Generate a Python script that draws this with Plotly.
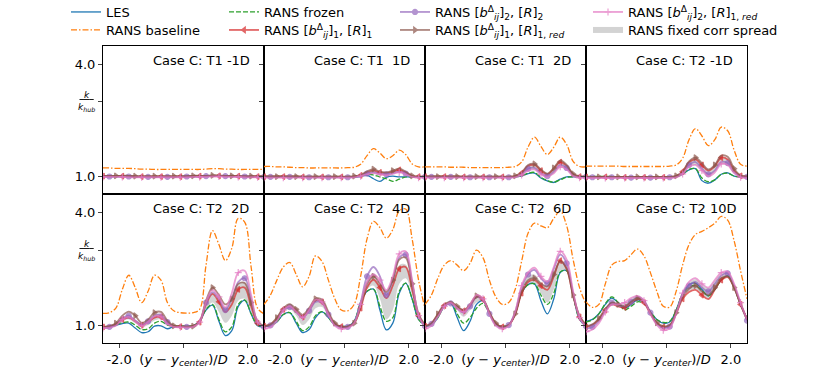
import plotly.graph_objects as go

# wall-normal coordinate (y - y_center)/D, shared by all panels
y_over_d = [-2.5, -2.3, -2.1, -1.9, -1.7, -1.5, -1.3, -1.1, -0.9, -0.7, -0.5, -0.3, -0.1,
            0.1, 0.3, 0.5, 0.7, 0.9, 1.1, 1.3, 1.5, 1.7, 1.9, 2.1, 2.3, 2.5]

panel_titles = ["Case C: T1 -1D", "Case C: T1\u00a0\u00a01D", "Case C: T1\u00a0\u00a02D", "Case C: T2 -1D",
                "Case C: T2\u00a0\u00a02D", "Case C: T2\u00a0\u00a04D", "Case C: T2\u00a0\u00a06D", "Case C: T2 10D"]

xtick_vals = [-2.0, 0.0, 2.0]
xtick_text = ["-2.0", "(<i>y</i> \u2212 <i>y</i><sub><i>center</i></sub>)/<i>D</i>", "2.0"]
ytick_vals = [1.0, 3.0, 4.0]
ytick_text = ["1.0", "", "4.0"]

# k / k_hub, one row per panel (T1 -1D, T1 1D, T1 2D, T2 -1D, T2 2D, T2 4D, T2 6D, T2 10D)
les = [
    [0.99,0.99,0.99,0.99,0.99,0.98,0.98,0.98,0.98,0.98,0.98,0.98,0.99,0.99,0.99,0.99,1.00,1.01,1.01,1.00,1.00,0.99,0.99,0.98,0.98,0.98],
    [0.98,0.98,0.98,0.98,0.98,0.98,0.98,0.97,0.97,0.97,0.97,0.97,0.97,0.97,0.97,0.99,1.02,0.93,0.86,0.97,1.00,0.98,0.98,0.98,0.98,0.98],
    [0.98,0.98,0.98,0.98,0.98,0.98,0.98,0.97,0.97,0.97,0.97,0.97,0.97,0.97,0.98,1.00,1.07,1.08,0.95,0.87,0.83,0.92,0.98,0.98,0.98,0.98],
    [0.98,0.98,0.98,0.98,0.98,0.97,0.97,0.97,0.97,0.97,0.97,0.97,0.97,0.97,0.98,1.05,1.17,1.20,0.88,0.81,0.90,1.05,1.09,1.00,0.98,0.98],
    [0.92,0.94,0.99,1.04,1.05,0.92,0.80,0.82,0.97,0.98,0.90,0.96,0.97,0.97,0.98,1.10,1.40,1.53,1.10,0.72,0.85,1.50,1.66,1.30,0.98,0.95],
    [0.97,0.98,1.08,1.28,1.33,1.05,0.80,0.88,1.20,1.35,1.20,1.00,0.97,0.97,1.10,1.60,1.90,1.96,1.40,0.87,1.05,1.85,2.12,1.70,1.15,1.00],
    [0.97,1.00,1.20,1.50,1.58,1.20,0.85,1.10,1.55,1.65,1.30,1.02,0.96,1.00,1.30,1.85,2.08,2.10,1.65,1.30,1.70,2.40,2.45,1.80,1.15,0.97],
    [1.10,1.15,1.30,1.55,1.72,1.60,1.45,1.55,1.67,1.60,1.35,1.15,1.05,1.08,1.40,1.85,2.08,2.12,1.95,1.78,1.95,2.20,2.31,2.00,1.55,1.18],
]
rans_baseline = [
    [1.22,1.22,1.21,1.21,1.21,1.20,1.19,1.19,1.18,1.18,1.18,1.18,1.18,1.18,1.18,1.18,1.19,1.20,1.20,1.19,1.19,1.18,1.18,1.18,1.18,1.18],
    [1.26,1.26,1.25,1.25,1.24,1.23,1.23,1.22,1.22,1.22,1.22,1.22,1.22,1.23,1.24,1.32,1.55,1.74,1.62,1.47,1.55,1.70,1.58,1.33,1.25,1.25],
    [1.25,1.25,1.25,1.25,1.24,1.24,1.24,1.23,1.23,1.23,1.23,1.23,1.23,1.24,1.26,1.38,1.78,2.05,1.80,1.58,1.78,2.05,1.85,1.40,1.26,1.25],
    [1.27,1.27,1.27,1.27,1.27,1.27,1.26,1.26,1.26,1.26,1.26,1.26,1.26,1.27,1.30,1.48,1.98,2.28,2.08,1.82,1.98,2.32,2.22,1.70,1.32,1.27],
    [1.31,1.33,1.45,1.95,2.33,2.00,1.60,1.90,2.33,2.20,1.60,1.38,1.33,1.32,1.33,1.42,2.60,3.52,3.15,2.72,3.05,3.85,3.75,2.55,1.45,1.30],
    [1.55,1.80,2.20,2.55,2.67,2.35,2.02,2.30,2.85,2.70,2.20,1.70,1.40,1.38,1.55,2.30,3.30,3.77,3.60,3.32,3.55,4.05,4.10,3.30,2.20,1.45],
    [1.55,1.80,2.25,2.60,2.72,2.60,2.45,2.65,3.00,2.80,2.20,1.75,1.55,1.60,1.95,2.70,3.45,3.72,3.65,3.60,3.85,4.04,3.65,2.75,2.00,1.55],
    [1.62,1.47,1.55,2.10,2.60,2.70,2.72,2.88,3.03,2.85,2.40,1.90,1.50,1.48,1.90,2.60,3.15,3.42,3.50,3.60,3.72,3.90,3.80,3.25,2.45,1.70],
]
rans_frozen = [
    [1.00,1.00,1.00,1.00,1.00,0.99,0.99,0.99,0.99,0.99,0.99,0.99,0.99,1.00,1.00,1.00,1.01,1.02,1.01,1.00,1.00,1.00,0.99,0.99,0.99,0.99],
    [0.99,0.99,0.99,0.99,0.99,0.99,0.98,0.98,0.98,0.98,0.98,0.98,0.98,0.98,0.99,1.00,1.05,1.03,0.98,0.93,0.86,0.92,0.98,0.98,0.98,0.98],
    [0.99,0.99,0.99,0.99,0.99,0.99,0.98,0.98,0.98,0.98,0.98,0.98,0.98,0.98,0.99,1.01,1.08,1.10,0.97,0.88,0.84,0.90,0.97,0.98,0.98,0.98],
    [0.99,0.99,0.99,0.99,0.99,0.98,0.98,0.98,0.98,0.98,0.98,0.98,0.98,0.98,0.99,1.06,1.18,1.20,0.95,0.85,0.90,1.05,1.08,1.00,0.98,0.98],
    [0.95,0.97,1.01,1.06,1.08,1.00,0.88,0.90,1.05,1.10,1.00,0.97,0.97,0.97,0.98,1.10,1.42,1.55,1.15,0.82,0.95,1.55,1.67,1.30,1.00,0.96],
    [0.98,0.99,1.09,1.28,1.33,1.10,0.85,0.95,1.25,1.36,1.20,1.00,0.97,0.97,1.10,1.60,1.90,1.96,1.50,1.10,1.20,1.90,2.12,1.70,1.15,1.00],
    [0.98,1.01,1.20,1.50,1.58,1.30,1.05,1.20,1.45,1.58,1.30,1.03,0.97,1.00,1.30,1.85,2.08,2.10,1.80,1.55,1.85,2.42,2.45,1.80,1.15,0.98],
    [1.08,1.14,1.30,1.57,1.75,1.60,1.40,1.50,1.62,1.58,1.35,1.15,1.07,1.10,1.40,1.82,2.02,2.05,1.92,1.78,1.95,2.20,2.31,2.00,1.55,1.18],
]
rans_b1_r1 = [
    [1.00,1.00,1.00,1.00,1.00,0.99,0.99,0.99,0.99,0.99,0.99,0.99,0.99,0.99,1.00,1.00,1.00,1.01,1.01,1.00,1.00,1.00,0.99,0.99,0.99,0.99],
    [0.99,0.99,0.99,0.99,0.99,0.99,0.98,0.98,0.98,0.98,0.98,0.98,0.98,0.98,0.99,1.02,1.10,1.15,1.10,1.08,1.12,1.17,1.10,1.00,0.99,0.99],
    [0.99,0.99,0.99,0.99,0.99,0.99,0.98,0.98,0.98,0.98,0.98,0.98,0.98,0.98,1.00,1.08,1.27,1.30,1.15,1.05,1.20,1.38,1.27,1.05,0.99,0.99],
    [0.98,0.98,0.98,0.98,0.98,0.98,0.97,0.97,0.97,0.97,0.97,0.97,0.97,0.98,1.00,1.12,1.37,1.45,1.30,1.15,1.27,1.50,1.45,1.15,1.01,0.99],
    [0.95,0.97,1.02,1.15,1.20,1.10,1.00,1.08,1.20,1.22,1.05,0.97,0.96,0.96,0.97,1.08,1.55,1.83,1.62,1.35,1.55,1.95,2.00,1.50,1.05,0.97],
    [0.97,1.01,1.17,1.42,1.50,1.36,1.22,1.40,1.66,1.62,1.30,1.03,0.96,0.96,1.05,1.45,2.00,2.21,2.00,1.72,2.05,2.50,2.55,1.95,1.25,1.00],
    [0.97,1.05,1.28,1.52,1.60,1.48,1.38,1.52,1.75,1.68,1.33,1.04,0.95,1.00,1.28,1.85,2.15,2.20,2.05,1.94,2.30,2.72,2.50,1.78,1.22,1.00],
    [0.95,1.00,1.15,1.40,1.55,1.50,1.47,1.58,1.70,1.60,1.30,1.05,0.95,0.98,1.30,1.70,1.88,1.94,1.80,1.69,1.95,2.20,2.28,2.00,1.55,1.15],
]
rans_b2_r2 = [
    [0.99,0.99,0.99,0.99,0.99,0.99,0.98,0.98,0.98,0.98,0.98,0.98,0.98,0.99,0.99,0.99,1.00,1.00,1.00,1.00,0.99,0.99,0.99,0.99,0.98,0.98],
    [0.98,0.98,0.98,0.98,0.98,0.98,0.98,0.97,0.97,0.97,0.97,0.97,0.97,0.97,0.98,1.01,1.07,1.10,1.06,1.05,1.08,1.12,1.07,0.99,0.98,0.98],
    [0.98,0.98,0.98,0.98,0.98,0.98,0.97,0.97,0.97,0.97,0.97,0.97,0.97,0.97,0.99,1.05,1.20,1.22,1.08,1.00,1.12,1.30,1.22,1.03,0.98,0.98],
    [0.97,0.97,0.97,0.97,0.97,0.97,0.96,0.96,0.96,0.96,0.96,0.96,0.96,0.97,0.99,1.08,1.30,1.38,1.20,1.05,1.15,1.38,1.35,1.10,1.00,0.98],
    [0.93,0.95,1.01,1.18,1.25,1.12,1.00,1.10,1.25,1.28,1.08,0.96,0.95,0.95,0.96,1.08,1.60,1.88,1.70,1.40,1.70,2.15,2.25,1.70,1.08,0.95],
    [0.95,0.99,1.15,1.40,1.48,1.35,1.20,1.38,1.62,1.60,1.28,1.00,0.94,0.95,1.08,1.60,2.30,2.55,2.30,1.80,2.20,2.80,2.88,2.15,1.25,0.97],
    [0.95,1.03,1.25,1.50,1.58,1.45,1.33,1.50,1.75,1.68,1.30,1.00,0.93,1.00,1.35,2.00,2.35,2.47,2.25,2.11,2.50,2.88,2.65,1.85,1.20,0.97],
    [0.90,0.95,1.10,1.38,1.60,1.52,1.50,1.62,1.75,1.65,1.33,1.03,0.92,0.96,1.32,1.80,2.05,2.15,2.00,1.90,2.10,2.32,2.38,2.05,1.58,1.12],
]
rans_b1_r1red = [
    [1.01,1.01,1.01,1.01,1.01,1.00,1.00,1.00,1.00,1.00,1.00,1.00,1.00,1.00,1.01,1.01,1.01,1.02,1.02,1.01,1.01,1.00,1.00,1.00,1.00,1.00],
    [0.99,0.99,0.99,0.99,0.99,0.99,0.99,0.99,0.99,0.99,0.99,0.99,0.99,0.99,1.00,1.03,1.13,1.19,1.12,1.10,1.15,1.20,1.12,1.01,0.99,0.99],
    [0.99,0.99,0.99,0.99,0.99,0.99,0.99,0.99,0.99,0.99,0.99,0.99,0.99,0.99,1.01,1.10,1.30,1.33,1.18,1.07,1.22,1.42,1.30,1.06,1.00,0.99],
    [0.98,0.98,0.98,0.98,0.98,0.98,0.98,0.98,0.98,0.98,0.98,0.98,0.98,0.98,1.01,1.12,1.40,1.50,1.35,1.18,1.30,1.55,1.52,1.20,1.02,1.00],
    [0.95,0.97,1.05,1.25,1.36,1.25,1.06,1.15,1.33,1.35,1.12,0.98,0.96,0.96,0.97,1.10,1.65,2.00,1.80,1.55,1.70,2.10,2.12,1.60,1.10,0.97],
    [0.97,1.02,1.20,1.45,1.56,1.42,1.27,1.45,1.70,1.68,1.35,1.05,0.96,0.96,1.05,1.50,2.10,2.30,2.10,1.89,2.20,2.75,2.80,2.10,1.30,1.00],
    [0.97,1.05,1.30,1.55,1.62,1.50,1.40,1.55,1.78,1.70,1.35,1.05,0.95,1.00,1.30,1.90,2.20,2.25,2.10,2.03,2.35,2.70,2.50,1.80,1.25,1.00],
    [0.97,1.02,1.18,1.43,1.60,1.55,1.50,1.62,1.72,1.62,1.33,1.06,0.97,1.00,1.33,1.75,1.97,2.05,1.90,1.80,2.00,2.25,2.30,2.00,1.55,1.15],
]
rans_b2_r1red = [
    [0.98,0.98,0.98,0.98,0.97,0.97,0.97,0.97,0.97,0.97,0.97,0.97,0.97,0.97,0.98,0.98,0.98,0.99,0.99,0.98,0.98,0.98,0.97,0.97,0.97,0.97],
    [0.96,0.96,0.96,0.96,0.96,0.96,0.96,0.96,0.96,0.96,0.96,0.96,0.96,0.96,0.97,1.00,1.05,1.08,1.05,1.03,1.06,1.10,1.05,0.98,0.96,0.96],
    [0.96,0.96,0.96,0.96,0.96,0.96,0.96,0.96,0.96,0.96,0.96,0.96,0.96,0.96,0.97,1.03,1.15,1.18,1.05,0.98,1.08,1.25,1.18,1.00,0.96,0.96],
    [0.95,0.95,0.95,0.95,0.95,0.95,0.95,0.95,0.95,0.95,0.95,0.95,0.95,0.95,0.97,1.06,1.25,1.30,1.15,1.00,1.10,1.33,1.30,1.08,0.97,0.96],
    [0.92,0.93,0.98,1.15,1.22,1.10,0.98,1.08,1.24,1.22,1.03,0.95,0.94,0.94,0.95,1.08,1.62,1.93,1.75,1.47,1.85,2.40,2.45,1.80,1.08,0.94],
    [0.90,0.94,1.10,1.40,1.50,1.35,1.20,1.40,1.68,1.62,1.28,0.98,0.90,0.92,1.05,1.55,2.15,2.35,2.20,1.93,2.30,2.90,2.97,2.20,1.25,0.95],
    [0.90,0.98,1.22,1.50,1.60,1.45,1.35,1.55,1.80,1.70,1.30,0.98,0.90,0.98,1.35,2.05,2.40,2.53,2.30,2.16,2.55,2.97,2.75,1.90,1.20,0.95],
    [0.82,0.88,1.05,1.35,1.55,1.55,1.60,1.72,1.78,1.65,1.30,1.00,0.86,0.92,1.30,1.85,2.15,2.25,2.10,2.00,2.20,2.40,2.43,2.10,1.60,1.15],
]
spread_low = [
    [0.98,0.98,0.98,0.98,0.98,0.98,0.98,0.98,0.98,0.98,0.98,0.98,0.98,0.98,0.98,0.98,0.98,0.99,0.99,0.98,0.98,0.98,0.98,0.98,0.98,0.98],
    [0.97,0.97,0.97,0.97,0.97,0.97,0.97,0.97,0.97,0.97,0.97,0.97,0.97,0.97,0.98,1.00,1.05,1.08,1.04,1.02,1.05,1.09,1.04,0.98,0.97,0.97],
    [0.97,0.97,0.97,0.97,0.97,0.97,0.97,0.97,0.97,0.97,0.97,0.97,0.97,0.97,0.98,1.03,1.15,1.18,1.04,0.98,1.08,1.24,1.17,1.00,0.97,0.97],
    [0.96,0.96,0.96,0.96,0.96,0.96,0.96,0.96,0.96,0.96,0.96,0.96,0.96,0.96,0.98,1.06,1.25,1.30,1.15,1.02,1.12,1.33,1.30,1.08,0.98,0.97],
    [0.94,0.95,1.00,1.10,1.15,1.05,0.95,1.00,1.12,1.15,1.02,0.96,0.95,0.95,0.96,1.05,1.42,1.60,1.35,1.06,1.25,1.65,1.70,1.35,1.02,0.96],
    [0.95,0.99,1.12,1.35,1.42,1.25,1.00,1.15,1.45,1.48,1.22,1.00,0.95,0.95,1.05,1.45,1.95,2.05,1.70,1.15,1.40,2.10,2.25,1.80,1.20,0.98],
    [0.95,1.02,1.22,1.50,1.58,1.40,1.22,1.40,1.60,1.62,1.30,1.02,0.95,1.00,1.30,1.85,2.10,2.12,1.85,1.60,1.95,2.45,2.45,1.80,1.17,0.97],
    [0.92,0.98,1.12,1.40,1.55,1.50,1.47,1.58,1.68,1.58,1.30,1.03,0.94,0.97,1.30,1.72,1.90,1.96,1.82,1.70,1.95,2.18,2.28,2.00,1.55,1.15],
]
spread_high = [
    [1.01,1.01,1.01,1.01,1.01,1.01,1.01,1.01,1.01,1.01,1.01,1.01,1.01,1.01,1.01,1.01,1.01,1.02,1.02,1.01,1.01,1.01,1.01,1.01,1.01,1.01],
    [1.00,1.00,1.00,1.00,1.00,1.00,1.00,1.00,1.00,1.00,1.00,1.00,1.00,1.00,1.01,1.03,1.11,1.16,1.10,1.08,1.13,1.17,1.10,1.01,1.00,1.00],
    [1.00,1.00,1.00,1.00,1.00,1.00,1.00,1.00,1.00,1.00,1.00,1.00,1.00,1.00,1.01,1.08,1.27,1.30,1.16,1.05,1.20,1.38,1.27,1.05,1.00,1.00],
    [0.99,0.99,0.99,0.99,0.99,0.99,0.99,0.99,0.99,0.99,0.99,0.99,0.99,0.99,1.01,1.12,1.38,1.46,1.30,1.16,1.28,1.50,1.46,1.16,1.02,1.00],
    [0.96,0.98,1.03,1.18,1.25,1.15,1.03,1.12,1.27,1.28,1.08,0.98,0.97,0.97,0.98,1.10,1.58,1.85,1.70,1.46,1.75,2.10,2.14,1.65,1.08,0.98],
    [0.98,1.02,1.18,1.45,1.52,1.40,1.22,1.42,1.68,1.66,1.32,1.04,0.97,0.97,1.08,1.58,2.20,2.38,2.15,1.85,2.15,2.60,2.62,2.05,1.28,1.00],
    [0.98,1.05,1.30,1.55,1.62,1.50,1.40,1.55,1.78,1.70,1.35,1.05,0.97,1.02,1.35,1.95,2.30,2.35,2.15,2.05,2.40,2.75,2.60,1.85,1.25,1.00],
    [0.97,1.02,1.18,1.45,1.62,1.57,1.58,1.70,1.78,1.66,1.36,1.06,0.97,1.02,1.36,1.85,2.12,2.22,2.08,1.98,2.18,2.38,2.42,2.08,1.60,1.18],
]

W, H = 830, 386
col_edges = [103, 264, 425, 586, 747]   # px
row_edges = [46, 194, 343]              # px from top
FONT = "DejaVu Sans"

# name, data, colour, width, opacity, dash, marker symbol, marker offset, legend id, legend x px, legend row
series = [
    ("LES", les, "#1f77b4", 1.3, 1.0, "solid", None, 0, "legend", 66, 0),
    ("RANS baseline", rans_baseline, "#ff7f0e", 1.3, 1.0, "6px,2px,1.5px,2px", None, 0, "legend2", 66, 1),
    ("RANS frozen", rans_frozen, "#2ca02c", 1.3, 1.0, "5px,2px", None, 0, "legend3", 224, 0),
    ("RANS [<i>b</i><sup>\u0394</sup><sub><i>ij</i></sub>]<sub>1</sub>, [<i>R</i>]<sub>1</sub>",
     rans_b1_r1, "#d62728", 1.8, 0.7, "solid", "triangle-left", 0, "legend4", 224, 1),
    ("RANS [<i>b</i><sup>\u0394</sup><sub><i>ij</i></sub>]<sub>2</sub>, [<i>R</i>]<sub>2</sub>",
     rans_b2_r2, "#9467bd", 1.8, 0.7, "solid", "circle", 1, "legend5", 395, 0),
    ("RANS [<i>b</i><sup>\u0394</sup><sub><i>ij</i></sub>]<sub>1</sub>, [<i>R</i>]<sub>1, <i>red</i></sub>",
     rans_b1_r1red, "#8c564b", 1.8, 0.7, "solid", "triangle-right", 2, "legend6", 395, 1),
    ("RANS [<i>b</i><sup>\u0394</sup><sub><i>ij</i></sub>]<sub>2</sub>, [<i>R</i>]<sub>1, <i>red</i></sub>",
     rans_b2_r1red, "#e377c2", 1.8, 0.7, "solid", "cross-thin", 0, "legend7", 588, 0),
]
SPREAD_NAME, SPREAD_LEG = "RANS fixed corr spread", ("legend8", 588, 1)
SPREAD_FILL = "rgba(200,200,200,0.8)"

fig = go.Figure()
layout = {}
for p in range(8):
    r, c = divmod(p, 4)
    sfx = "" if p == 0 else str(p + 1)
    xa, ya = "x" + sfx, "y" + sfx

    fig.add_trace(go.Scatter(x=y_over_d, y=spread_low[p], mode="lines", line=dict(width=0, shape="spline"),
                             xaxis=xa, yaxis=ya, showlegend=False, hoverinfo="skip"))
    fig.add_trace(go.Scatter(x=y_over_d, y=spread_high[p], mode="lines", line=dict(width=0, shape="spline"),
                             fill="tonexty", fillcolor=SPREAD_FILL,
                             xaxis=xa, yaxis=ya, showlegend=False, hoverinfo="skip"))

    for name, data, col, lw, op, dash, sym, off, lg, lx, lr in series:
        fig.add_trace(go.Scatter(x=y_over_d, y=data[p], mode="lines", opacity=op,
                                 line=dict(color=col, width=lw, dash=dash, shape="spline"),
                                 xaxis=xa, yaxis=ya, showlegend=False))
        if sym:
            fig.add_trace(go.Scatter(x=y_over_d[off::3], y=data[p][off::3], mode="markers", opacity=op,
                                     marker=dict(symbol=sym, size=5, color=col, line=dict(color=col, width=1.2)),
                                     xaxis=xa, yaxis=ya, showlegend=False))

    layout["xaxis" + sfx] = dict(
        domain=[col_edges[c] / W, col_edges[c + 1] / W], anchor=ya, range=[-2.5, 2.5],
        tickmode="array", tickvals=xtick_vals, ticktext=xtick_text,
        showticklabels=(r == 1), ticks="outside" if r == 1 else "", ticklen=4,
        showline=True, mirror=True, linecolor="black", linewidth=1,
        showgrid=False, zeroline=False, tickfont=dict(size=13, color="black"))
    layout["yaxis" + sfx] = dict(
        domain=[(H - row_edges[r + 1]) / H, (H - row_edges[r]) / H], anchor=xa, range=[0.52, 4.5],
        tickmode="array", tickvals=ytick_vals, ticktext=ytick_text,
        showticklabels=(c == 0), ticks="outside", ticklen=4,
        showline=True, mirror=True, linecolor="black", linewidth=1,
        showgrid=False, zeroline=False, tickfont=dict(size=13, color="black"))

    fig.add_annotation(text=panel_titles[p], xref=xa + " domain", yref=ya + " domain",
                       x=0.3, y=0.9, xanchor="left", yanchor="middle", showarrow=False,
                       font=dict(size=13, color="black"))
    if c == 0:
        fig.add_annotation(text="<u>\u2002<i>k</i>\u2002</u><br><i>k</i><sub><i>hub</i></sub>",
                           xref="paper", yref=ya, x=86 / W, y=3.0, xanchor="center",
                           yanchor="middle", showarrow=False, align="center", font=dict(size=9, color="black"))

# legend entries: one small legend per entry so each can sit in its own column/row
legends = {}
row_y = [1 + 3 / H, 1 - 15 / H]
for name, data, col, lw, op, dash, sym, off, lg, lx, lr in series:
    fig.add_trace(go.Scatter(x=[None], y=[None], name=name, legend=lg, opacity=op,
                             mode="lines+markers" if sym else "lines",
                             line=dict(color=col, width=lw, dash=dash),
                             marker=dict(symbol=sym or "circle", size=5, color=col, line=dict(color=col, width=1.2))))
    legends[lg] = (lx, lr)
fig.add_trace(go.Scatter(x=[None], y=[None], name=SPREAD_NAME, legend=SPREAD_LEG[0],
                         mode="none", fill="toself", fillcolor=SPREAD_FILL))
legends[SPREAD_LEG[0]] = SPREAD_LEG[1:]

for lg, (lx, lr) in legends.items():
    layout[lg] = dict(x=lx / W, y=row_y[lr], xanchor="left", yanchor="top", orientation="v",
                      traceorder="normal", bgcolor="rgba(0,0,0,0)",
                      font=dict(size=13, color="black", family=FONT))

fig.update_layout(
    width=W, height=H, margin=dict(l=0, r=0, t=0, b=0, autoexpand=False),
    paper_bgcolor="white", plot_bgcolor="white",
    font=dict(family=FONT, size=13, color="black"),
    **layout)

# drop the default 8 px page margin so the figure fills the window exactly; no mode bar
fig.write_html("out.html", config={"displayModeBar": False},
               post_script="document.body.style.margin = '0';")
